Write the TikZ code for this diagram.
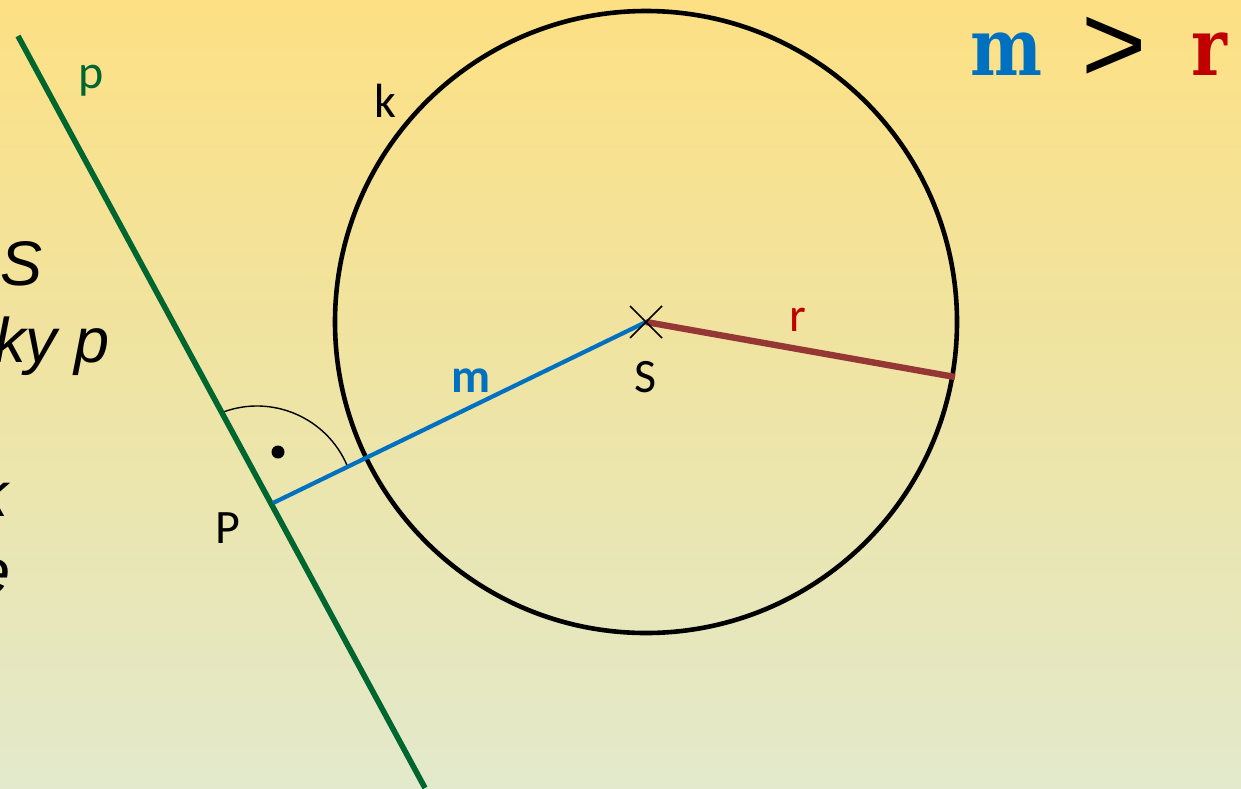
\documentclass[tikz,border=0pt]{standalone}
\usepackage{fontspec}
\usetikzlibrary{calc}
\setmainfont{Carlito}
\newfontfamily\ital{Liberation Sans}
\newfontfamily\slab{DejaVu Serif}[FakeStretch=0.85]
\definecolor{bgtop}{RGB}{253,224,132}
\definecolor{bgmid}{RGB}{238,228,165}
\definecolor{bgbot}{RGB}{227,233,204}
\definecolor{pgreen}{RGB}{0,102,48}
\definecolor{mblue}{RGB}{0,112,192}
\definecolor{rline}{RGB}{149,55,53}
\definecolor{rred}{RGB}{192,0,0}
\tikzset{
  lbl/.style={inner sep=0pt, anchor=base, font=\fontsize{24}{28}\selectfont},
  para/.style={inner sep=0pt, font=\ital\itshape\fontsize{31.5}{36}\selectfont},
  big/.style={inner sep=0pt, anchor=base, font=\slab\bfseries\fontsize{40}{46}\selectfont},
}
\begin{document}
\begin{tikzpicture}[x=0.5pt,y=-0.5pt]
\useasboundingbox (0,0) rectangle (1241,788);
\clip (0,0) rectangle (1241,788);
\shade[top color=bgtop, bottom color=bgbot, middle color=bgmid] (0,0) rectangle (1241,788);
% coordinates
\coordinate (A) at (18,36);
\coordinate (B) at (425,788);
\coordinate (S) at (646,322);
\coordinate (P) at (273,503);
\coordinate (R) at (955,377);
% left paragraph fragments
\node[para, anchor=base west] (t1) at (0,285) {S};
\node[para, anchor=base east] (t2) at (110,362) {ky p};
\node[para, anchor=base east] (t3) at (8,516) {k};
\node[para, anchor=base east] (t4) at (11,593) {e};
% circle
\draw[line width=2.3pt] (S) circle[radius=311];
% right angle mark
\draw[line width=0.7pt] (257,504) ++(-110.3:98) arc[start angle=-110.3, end angle=-22.7, radius=98];
\fill (278,452) circle[radius=6.5];
% lines
\draw[pgreen, line width=2.8pt] (A) -- (B);
\draw[mblue, line width=2.1pt] (P) -- (S);
\draw[rline, line width=3.2pt] (S) -- (R);
\draw[line width=0.8pt] ($(S)+(-16,-16)$) -- ($(S)+(16,16)$) ($(S)+(-16,16)$) -- ($(S)+(16,-16)$);
% labels
\node[lbl, text=pgreen] (lp) at (91,88) {p};
\node[lbl] (lk) at (385,117) {k};
\node[lbl] (lS) at (646,392) {S};
\node[lbl] (lP) at (228,543) {P};
\node[lbl, text=mblue, font=\bfseries\fontsize{24}{28}\selectfont] (lm) at (471,392) {m};
\node[lbl, text=rred] (lr) at (798,331) {r};
% m > r
\node[big, text=mblue] (bm) at (1006,75) {m};
\node[inner sep=0pt, font=\ital\fontsize{56}{60}\selectfont] (bg) at (1114,50) {>};
\node[big, text=rred] (br) at (1209,75) {r};
\end{tikzpicture}
\end{document}
